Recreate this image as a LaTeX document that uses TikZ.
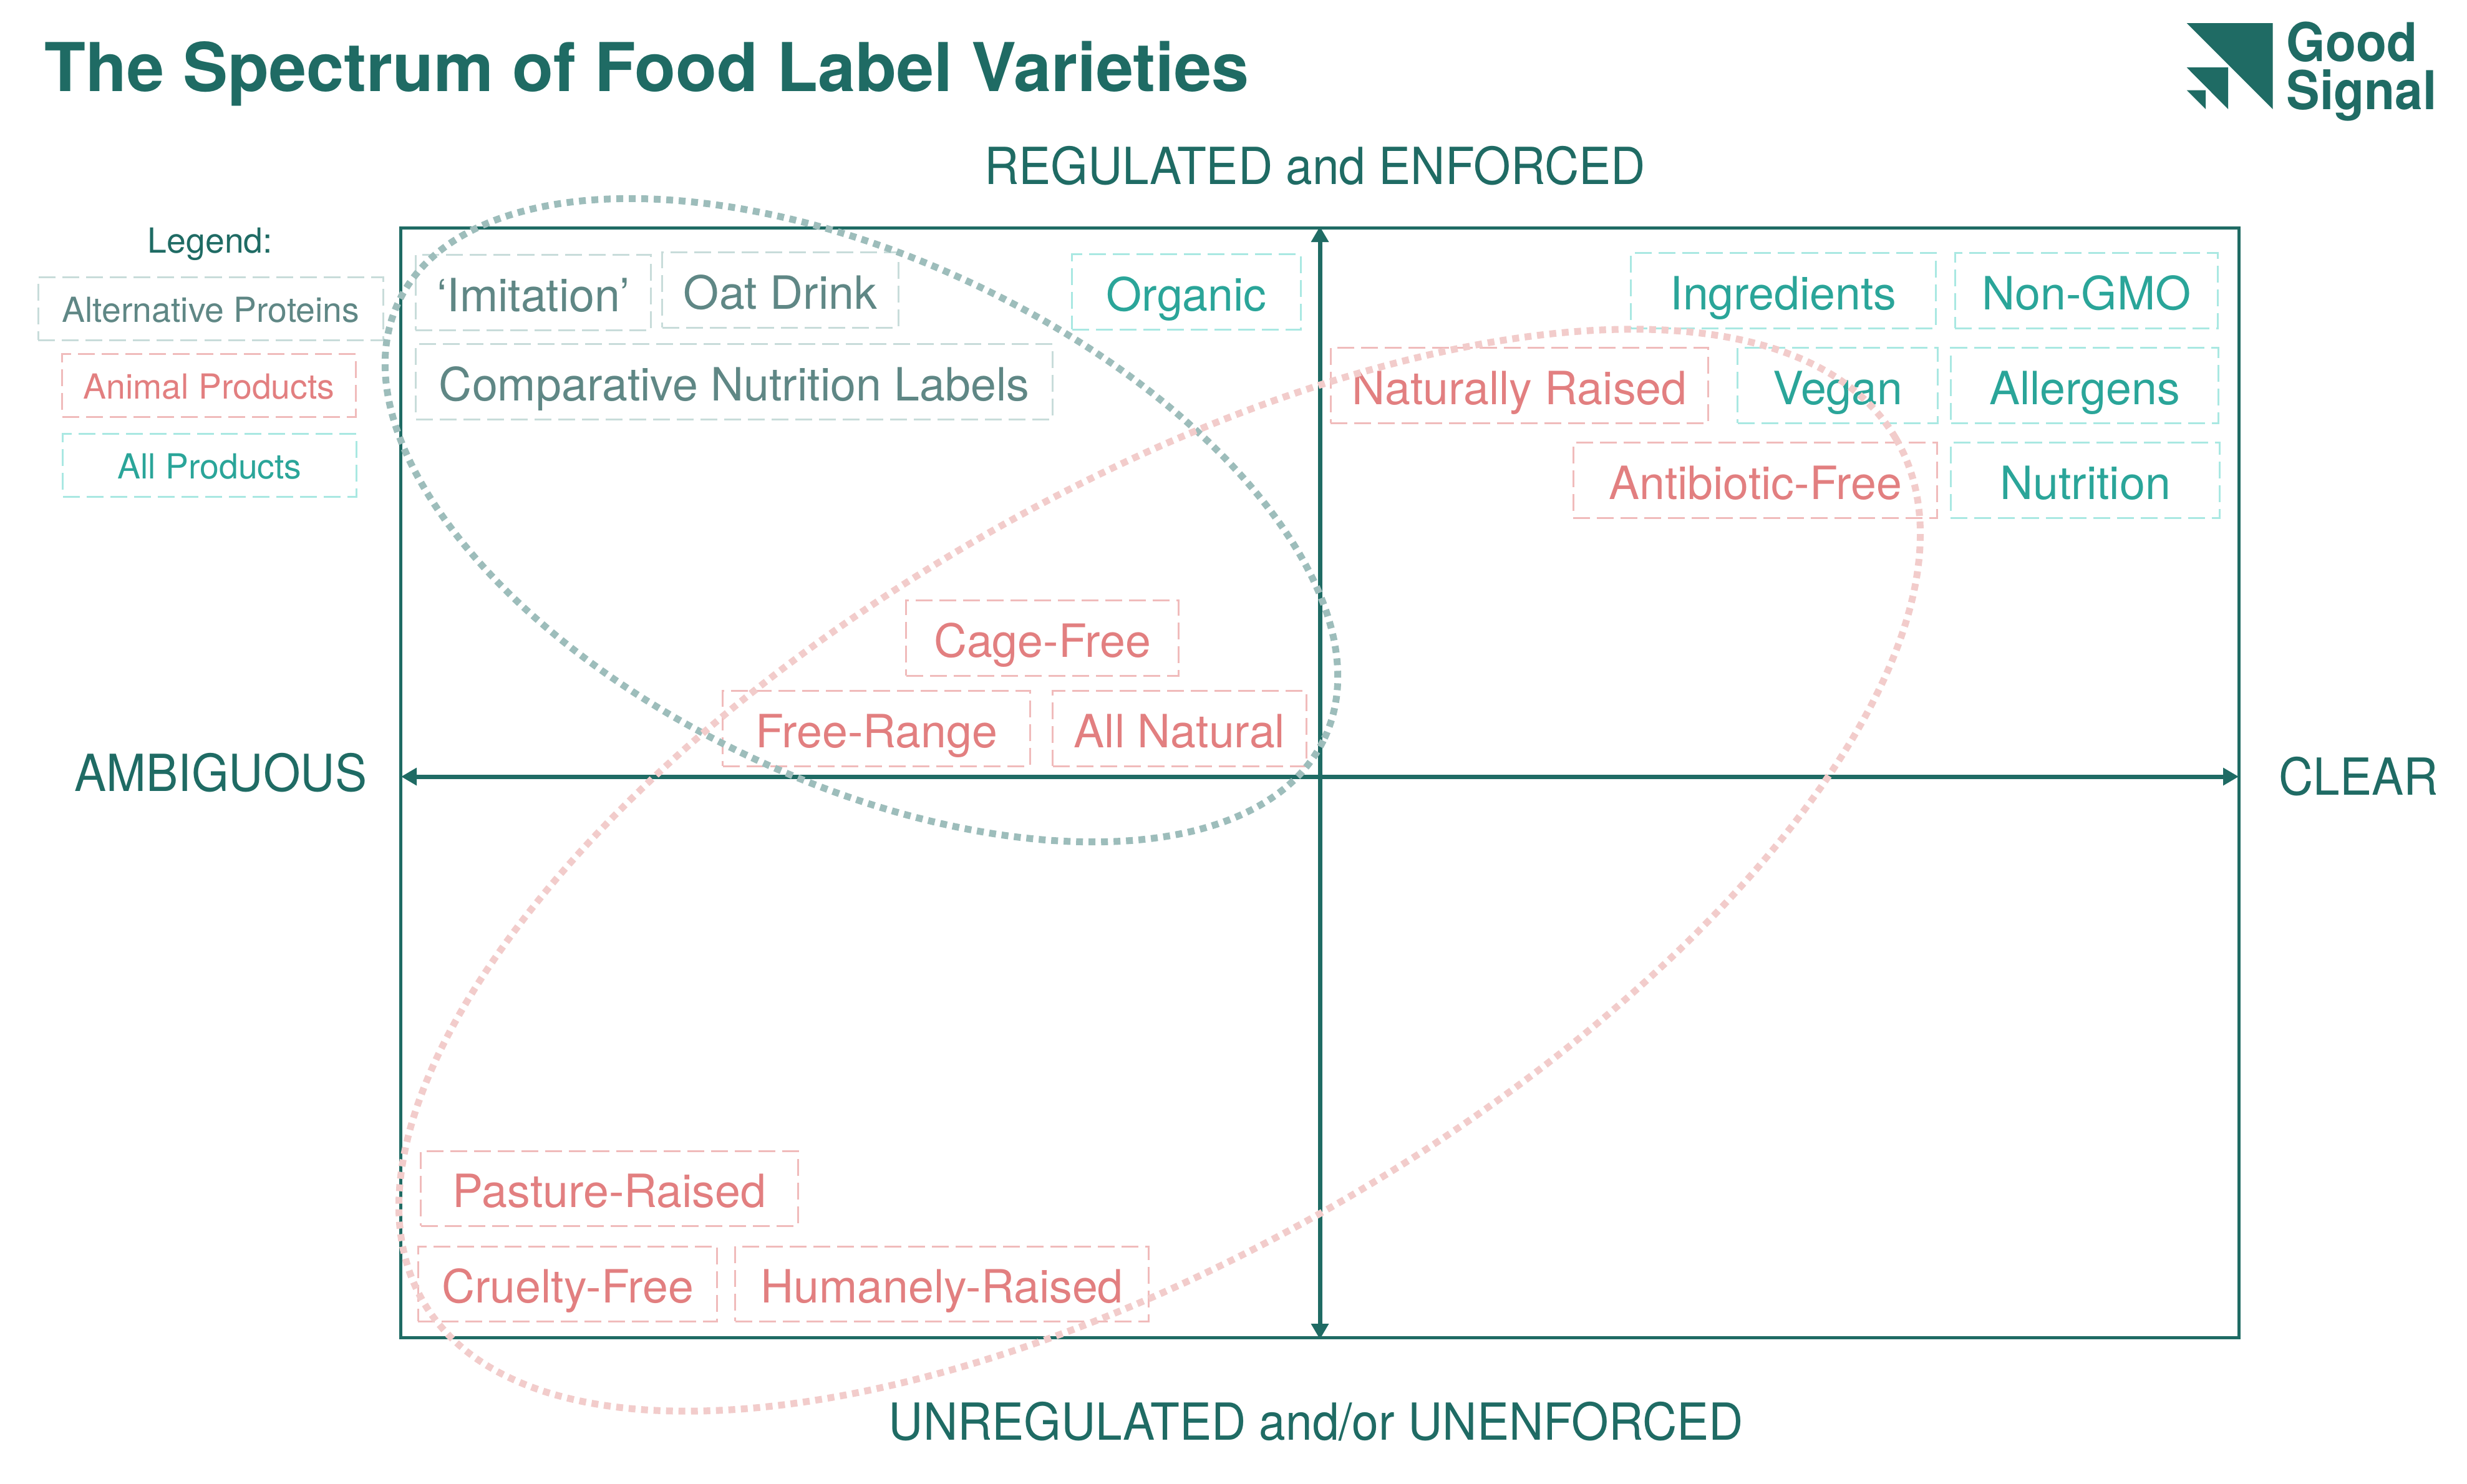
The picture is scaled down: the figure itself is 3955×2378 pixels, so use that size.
\documentclass[tikz,border=0pt]{standalone}
\usepackage{fontspec}
\setmainfont{TeX Gyre Heros}
\newfontfamily\axisfont[FakeStretch=0.935]{TeX Gyre Heros}
\usepackage{xcolor}
\usepackage{tikz}
\usetikzlibrary{arrows.meta,positioning,shapes.geometric}

\definecolor{signalgreen}{HTML}{1F6B64}
\definecolor{alttext}{HTML}{5F8785}
\definecolor{altedge}{HTML}{C8DCDA}
\definecolor{alloop}{HTML}{9DBDBB}
\definecolor{animaltext}{HTML}{E27F80}
\definecolor{animaledge}{HTML}{F0BBBB}
\definecolor{animalloop}{HTML}{F2CCCB}
\definecolor{alltext}{HTML}{2AA599}
\definecolor{alledge}{HTML}{A9E8E2}

\begin{document}
\begin{tikzpicture}[
    x=0.01cm, y=-0.01cm,
    foodbox/.style={draw, line width=0.03cm, dash pattern=on 0.27cm off 0.11cm, inner sep=0pt,
      minimum height=1.2cm, text height=0.6cm, text depth=0pt, font=\fontsize{20.9pt}{24pt}\selectfont},
    altbox/.style={foodbox, draw=altedge, text=alttext},
    animalbox/.style={foodbox, draw=animaledge, text=animaltext},
    allbox/.style={foodbox, draw=alledge, text=alltext},
    legendbox/.style={minimum height=1cm, text height=0.42cm, font=\fontsize{15.75pt}{18pt}\selectfont},
    axislabel/.style={anchor=base, inner sep=0pt, text=signalgreen, font=\axisfont\fontsize{23.3pt}{28pt}\selectfont},
    arr/.style={{Stealth[length=0.25cm,width=0.27cm,inset=0pt]}-{Stealth[length=0.25cm,width=0.27cm,inset=0pt]}, line width=0.07cm, draw=signalgreen},
    loop/.style={ellipse, draw, line width=0.11cm, dash pattern=on 0.11cm off 0.09cm, inner sep=0pt}
  ]
  \useasboundingbox (0,0) rectangle (3955,2378);

  % header
  \node[anchor=base west, inner sep=0pt, text=signalgreen, font=\bfseries\fontsize{30.7pt}{36pt}\selectfont] (title) at (71,146) {The Spectrum of Food Label Varieties};
  \fill[signalgreen] (3505.5,37) -- (3643.5,37) -- (3643.5,175) -- cycle;
  \fill[signalgreen] (3505.5,108) -- (3572,108) -- (3572,175) -- cycle;
  \fill[signalgreen] (3505.5,144.5) -- (3536,144.5) -- (3536,175) -- cycle;
  \node[anchor=base west, inner sep=0pt, text=signalgreen, font=\axisfont\bfseries\fontsize{24.4pt}{30pt}\selectfont] (good) at (3665,98.5) {Good};
  \node[anchor=base west, inner sep=0pt, text=signalgreen, font=\axisfont\bfseries\fontsize{24.4pt}{30pt}\selectfont] (signal) at (3665,175) {Signal};

  % axes
  \node[draw=signalgreen, line width=0.05cm, minimum width=29.46cm, minimum height=17.78cm, inner sep=0pt] (frame) at (2116,1255) {};
  \coordinate (ambig) at (643,1245);
  \coordinate (clear) at (3589,1245);
  \draw[arr] (ambig) -- (clear);
  \draw[arr] (frame.north) -- (frame.south);
  \node[axislabel] (regulated) at (2108,295) {REGULATED and ENFORCED};
  \node[axislabel] (unregulated) at (2110,2308) {UNREGULATED and/or UNENFORCED};
  \node[axislabel] (ambiguous) at (354,1268) {AMBIGUOUS};
  \node[axislabel] (clearlabel) at (3781,1274) {CLEAR};

  % legend
  \node[anchor=base, inner sep=0pt, text=signalgreen, font=\fontsize{15.75pt}{18pt}\selectfont] (legend) at (337,405) {Legend:};
  \node[altbox, legendbox, minimum width=5.53cm] (legalt) at (338,495) {Alternative Proteins};
  \node[animalbox, legendbox, minimum width=4.7cm] (leganimal) at (335,618) {Animal Products};
  \node[allbox, legendbox, minimum width=4.7cm] (legall) at (336,746) {All Products};

  % alternative proteins
  \node[altbox, minimum width=3.77cm] (imitation) at (855,469) {‘Imitation’};
  \node[altbox, minimum width=3.78cm] (oat) at (1251,465) {Oat Drink};
  \node[altbox, minimum width=10.2cm] (comparative) at (1177,612) {Comparative Nutrition Labels};

  % animal products
  \node[animalbox, minimum width=6.05cm] (naturally) at (2436,618) {Naturally Raised};
  \node[animalbox, minimum width=5.83cm] (antibiotic) at (2814,770) {Antibiotic-Free};
  \node[animalbox, minimum width=4.36cm] (cage) at (1671,1023) {Cage-Free};
  \node[animalbox, minimum width=4.92cm] (range) at (1405,1168) {Free-Range};
  \node[animalbox, minimum width=4.06cm] (natural) at (1891,1168) {All Natural};
  \node[animalbox, minimum width=6.04cm] (pasture) at (977,1905) {Pasture-Raised};
  \node[animalbox, minimum width=4.79cm] (cruelty) at (910,2058) {Cruelty-Free};
  \node[animalbox, minimum width=6.62cm] (humanely) at (1510,2058) {Humanely-Raised};

  % all products
  \node[allbox, minimum width=3.66cm] (organic) at (1902,468) {Organic};
  \node[allbox, minimum width=4.89cm] (ingredients) at (2859,466) {Ingredients};
  \node[allbox, minimum width=4.21cm] (nongmo) at (3345,466) {Non-GMO};
  \node[allbox, minimum width=3.2cm] (vegan) at (2946,618) {Vegan};
  \node[allbox, minimum width=4.28cm] (allergens) at (3342,618) {Allergens};
  \node[allbox, minimum width=4.31cm] (nutrition) at (3343,770) {Nutrition};

  % groupings
  \node[loop, draw=alloop, minimum width=16.4cm, minimum height=8.38cm, rotate=-25.2] (altgroup) at (1381,834) {};
  \node[loop, draw=animalloop, minimum width=27.35cm, minimum height=12.1cm, rotate=30.4] (animalgroup) at (1859,1395) {};
\end{tikzpicture}
\end{document}
